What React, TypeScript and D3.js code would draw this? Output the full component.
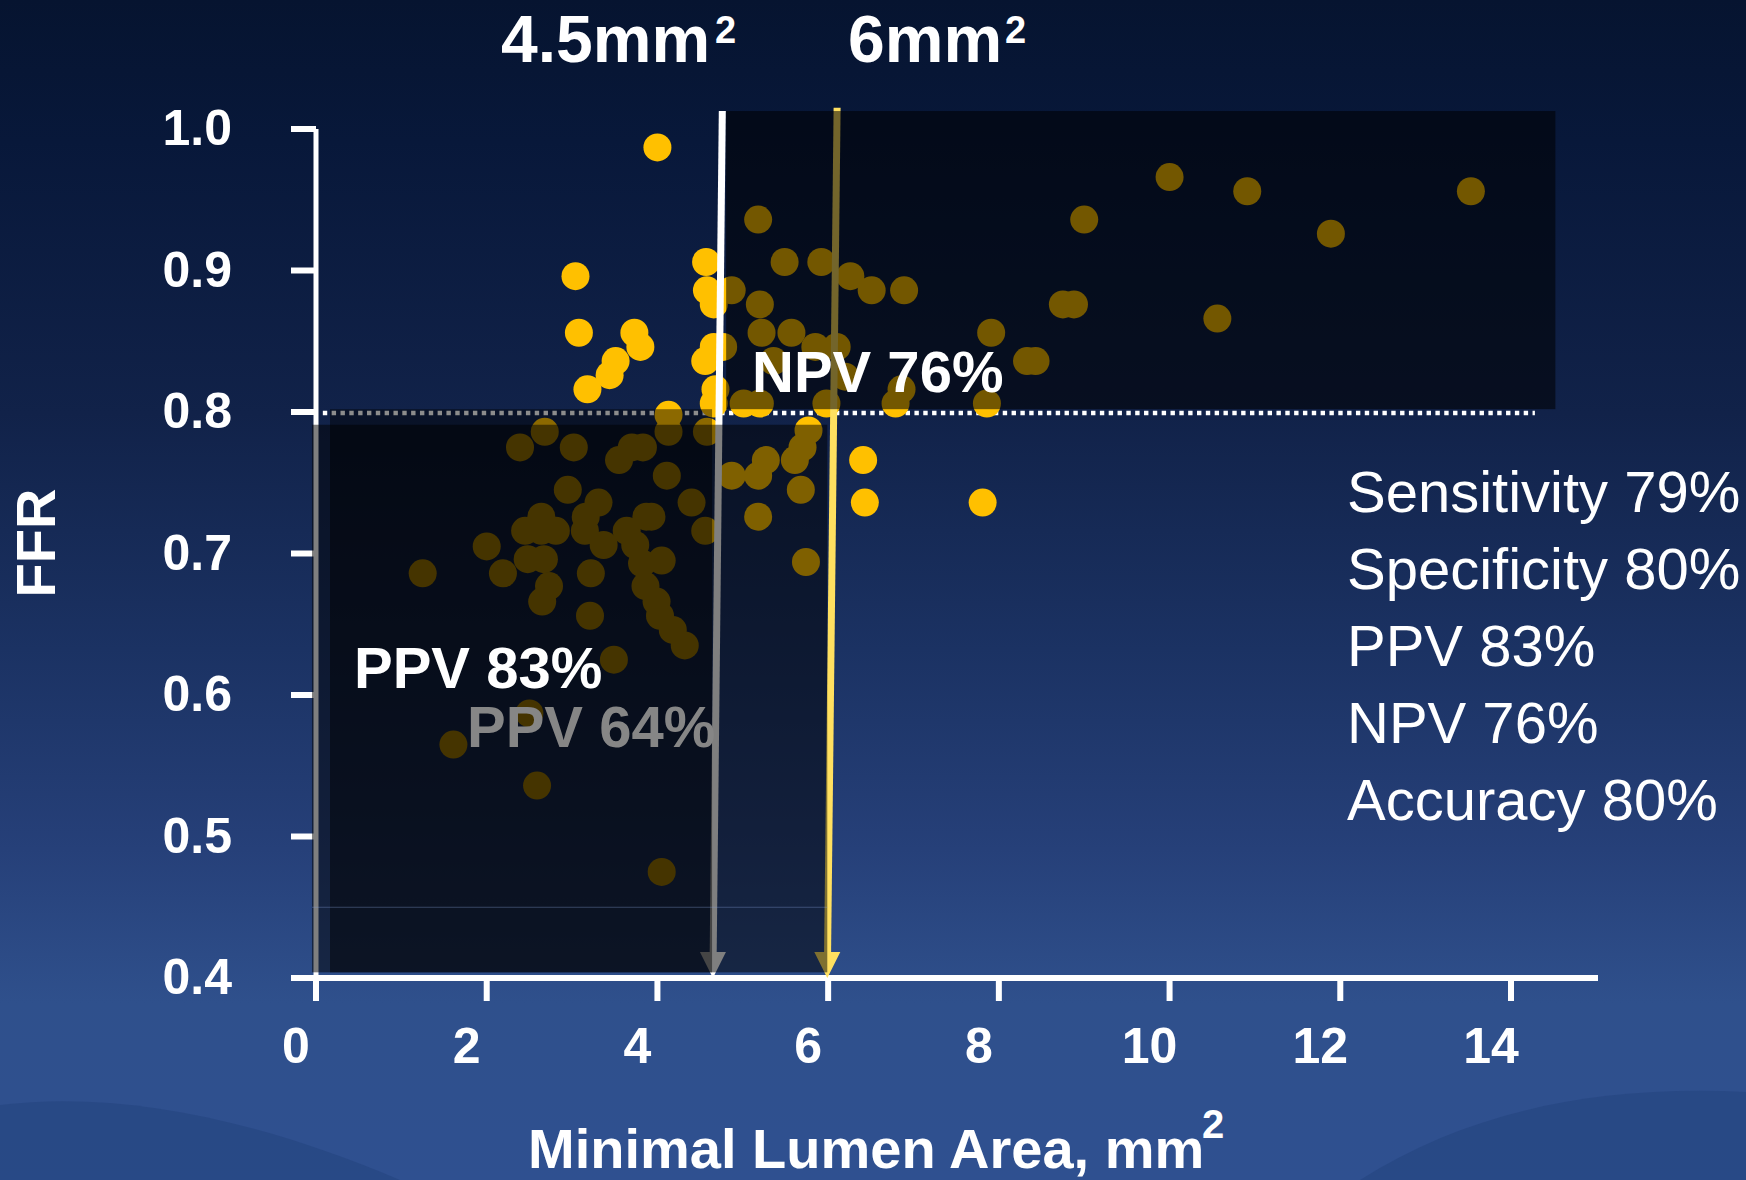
import React from 'react';
import * as d3 from 'd3';

// ---- data ----
const mla = [
  4.0, 3.04, 3.08, 3.73, 3.8, 3.51, 3.44, 3.18, 4.57, 4.58, 4.66, 4.66, 4.56, 4.68, 4.66, 4.13,
  6.41, 6.43, 7.81,
  5.18, 5.49, 5.92, 4.87, 5.2, 6.26, 6.51, 6.89, 5.22, 5.57, 5.85, 6.1, 4.77, 5.36, 6.2, 5.01,
  5.2, 5.98, 6.79, 6.86, 7.86, 7.91, 8.33, 8.43, 8.75, 8.88, 9.0, 10.0, 10.91, 10.56, 11.89, 13.53,
  2.68, 2.39, 3.02, 3.55, 3.7, 3.83, 4.13, 4.58, 4.11, 2.95, 3.31, 3.16, 2.64, 2.45, 2.64, 2.81,
  3.15, 4.4, 4.56, 3.87, 3.93, 3.64, 3.37, 3.74, 4.05, 2.0, 2.48, 2.67, 1.25, 2.19, 3.22, 2.73,
  2.65, 3.21, 3.82, 3.86, 3.99, 4.03, 4.18, 4.32, 3.49, 2.5, 1.61, 2.59, 4.05,
  4.87, 5.18, 5.27, 5.61, 5.7, 5.77, 5.68, 5.18, 5.74,
];
const ffr = [
  0.987, 0.896, 0.856, 0.856, 0.846, 0.836, 0.826, 0.816, 0.906, 0.886, 0.876, 0.846, 0.836, 0.816, 0.806, 0.798,
  0.766, 0.736, 0.736,
  0.936, 0.906, 0.906, 0.886, 0.876, 0.896, 0.886, 0.886, 0.856, 0.856, 0.846, 0.846, 0.846, 0.836, 0.825, 0.806,
  0.806, 0.806, 0.806, 0.816, 0.806, 0.856, 0.836, 0.836, 0.876, 0.876, 0.936, 0.966, 0.956, 0.866, 0.926, 0.956,
  0.786, 0.775, 0.775, 0.766, 0.775, 0.775, 0.786, 0.786, 0.755, 0.745, 0.736, 0.726, 0.726, 0.716, 0.716, 0.716,
  0.716, 0.736, 0.716, 0.726, 0.726, 0.716, 0.706, 0.706, 0.695, 0.705, 0.696, 0.696, 0.686, 0.686, 0.686, 0.677,
  0.666, 0.656, 0.693, 0.677, 0.666, 0.656, 0.646, 0.635, 0.625, 0.587, 0.565, 0.536, 0.475,
  0.755, 0.755, 0.766, 0.766, 0.775, 0.787, 0.745, 0.726, 0.694,
];
const xTicks = [0, 2, 4, 6, 8, 10, 12, 14];
const yTicks = [0.4, 0.5, 0.6, 0.7, 0.8, 0.9, 1.0];
const yTickLabels = ['0.4', '0.5', '0.6', '0.7', '0.8', '0.9', '1.0'];
const statsLines = ['Sensitivity 79%', 'Specificity 80%', 'PPV 83%', 'NPV 76%', 'Accuracy 80%'];
const cutoffLabels = ['4.5mm', '6mm'];
const ffrCutoff = 0.8;

const W = 1746;
const H = 1180;
const FONT = '"Liberation Sans", Arial, Helvetica, sans-serif';

export default function App() {
  React.useEffect(() => {
    document.body.style.margin = '0';
    document.body.style.overflow = 'hidden';
  }, []);

  const x = d3.scaleLinear().domain([0, 14]).range([316, 1511]);
  const y = d3.scaleLinear().domain([0.4, 1.0]).range([978, 129]);
  const pts = mla.map((m, i) => ({ m, f: ffr[i] }));

  // annotation boxes, in data units
  const boxNPV = { x0: 4.805, x1: 14.52, y0: 0.802, y1: 1.0127 };
  const box45 = { x0: 0.164, x1: 4.64, y0: 0.404, y1: 0.802 };
  const box6 = { x0: -0.047, x1: 5.99, y0: 0.404, y1: 0.791 };

  const rect = (b: any, op: number, key: string) => (
    <rect key={key} x={x(b.x0)} y={y(b.y1)} width={x(b.x1) - x(b.x0)} height={y(b.y0) - y(b.y1)}
      fill="#000" fillOpacity={op} />
  );

  const arrow = (top: [number, number], tip: [number, number], color: string, key: string) => {
    const tx = x(tip[0]), ty = y(tip[1]);
    const sx = x(top[0]), sy = y(top[1]);
    const hl = 26, hw = 13;
    return (
      <g key={key}>
        <line x1={sx} y1={sy} x2={tx + (sx - tx) * (hl / (ty - sy))} y2={ty - hl} stroke={color} strokeWidth={7} />
        <polygon points={`${tx - hw},${ty - hl} ${tx + hw},${ty - hl} ${tx},${ty}`} fill={color} />
      </g>
    );
  };

  return (
    <svg width={W} height={H} style={{ position: 'absolute', left: 0, top: 0 }} fontFamily={FONT}>
      <defs>
        <linearGradient id="bg" x1="0" y1="0" x2="0" y2="1">
          <stop offset="0" stopColor="#061430" />
          <stop offset="0.12" stopColor="#08183a" />
          <stop offset="0.35" stopColor="#112249" />
          <stop offset="0.55" stopColor="#1b3263" />
          <stop offset="0.72" stopColor="#264079" />
          <stop offset="0.85" stopColor="#2f508c" />
          <stop offset="1" stopColor="#2f5090" />
        </linearGradient>
      </defs>
      <rect x={0} y={0} width={W} height={H} fill="url(#bg)" />
      <path d="M0,1105 C120,1090 260,1120 400,1180 L0,1180 Z" fill="#21407a" opacity={0.45} />
      <path d="M1360,1180 C1470,1110 1600,1085 1746,1092 L1746,1180 Z" fill="#21407a" opacity={0.45} />

      {/* axes */}
      <line x1={x(0)} y1={y(1.0)} x2={x(0)} y2={y(0.4)} stroke="#fff" strokeWidth={5} />
      {yTicks.map((t) => (
        <line key={'yt' + t} x1={291} x2={x(0)} y1={y(t)} y2={y(t)} stroke="#fff" strokeWidth={6} />
      ))}
      <line x1={292} x2={1598} y1={y(0.4)} y2={y(0.4)} stroke="#fff" strokeWidth={6} />
      {xTicks.map((t) => (
        <line key={'xt' + t} x1={x(t)} x2={x(t)} y1={y(0.4)} y2={y(0.4) + 23} stroke="#fff" strokeWidth={6} />
      ))}

      {/* FFR cutoff dotted line */}
      <line x1={x(0.08)} x2={x(14.28)} y1={y(ffrCutoff) + 1} y2={y(ffrCutoff) + 1} stroke="#fff"
        strokeWidth={4.5} strokeDasharray="4.4 4.43" />

      {/* points */}
      {pts.map((p, i) => (
        <circle key={'p' + i} cx={x(p.m)} cy={y(p.f)} r={14} fill="#FFC000" />
      ))}

      {/* cut-off arrows */}
      {arrow([4.76, 1.0127], [4.65, 0.4], '#ffffff', 'a45')}
      {arrow([6.105, 1.015], [5.99, 0.4], '#FFE060', 'a6')}

      {/* shaded boxes */}
      {rect(boxNPV, 0.55, 'bn')}
      {rect(box6, 0.5, 'b6')}
      {rect(box45, 0.45, 'b45')}
      <line x1={x(box6.x0)} x2={x(box6.x1)} y1={y(0.45)} y2={y(0.45)} stroke="#8aa6e0" strokeOpacity={0.35} strokeWidth={1} />

      {/* labels */}
      <text x={752} y={392} fill="#fff" fontWeight="bold" fontSize={58}>NPV 76%</text>
      <text x={354} y={688} fill="#fff" fontWeight="bold" fontSize={58}>PPV 83%</text>
      <text x={467} y={747} fill="#868686" fontWeight="bold" fontSize={58}>PPV 64%</text>

      <text x={501} y={62} fill="#fff" fontWeight="bold" fontSize={66}>{cutoffLabels[0]}</text>
      <text x={715} y={43} fill="#fff" fontWeight="bold" fontSize={38}>2</text>
      <text x={848} y={62} fill="#fff" fontWeight="bold" fontSize={66}>{cutoffLabels[1]}</text>
      <text x={1005} y={43} fill="#fff" fontWeight="bold" fontSize={38}>2</text>

      {yTicks.map((t, i) => (
        <text key={'yl' + t} x={232} y={y(t) + 16} fill="#fff" fontWeight="bold" fontSize={50} textAnchor="end">
          {yTickLabels[i]}
        </text>
      ))}
      {xTicks.map((t) => (
        <text key={'xl' + t} x={x(t) - 20} y={1063} fill="#fff" fontWeight="bold" fontSize={50} textAnchor="middle">
          {t}
        </text>
      ))}

      <text x={528} y={1168} fill="#fff" fontWeight="bold" fontSize={56}>Minimal Lumen Area, mm</text>
      <text x={1202} y={1138} fill="#fff" fontWeight="bold" fontSize={40}>2</text>
      <text transform="translate(55,543) rotate(-90)" fill="#fff" fontWeight="bold" fontSize={56} textAnchor="middle">FFR</text>

      {statsLines.map((s, i) => (
        <text key={s} x={1347} y={512 + i * 77} fill="#fff" fontSize={58}>{s}</text>
      ))}
    </svg>
  );
}
